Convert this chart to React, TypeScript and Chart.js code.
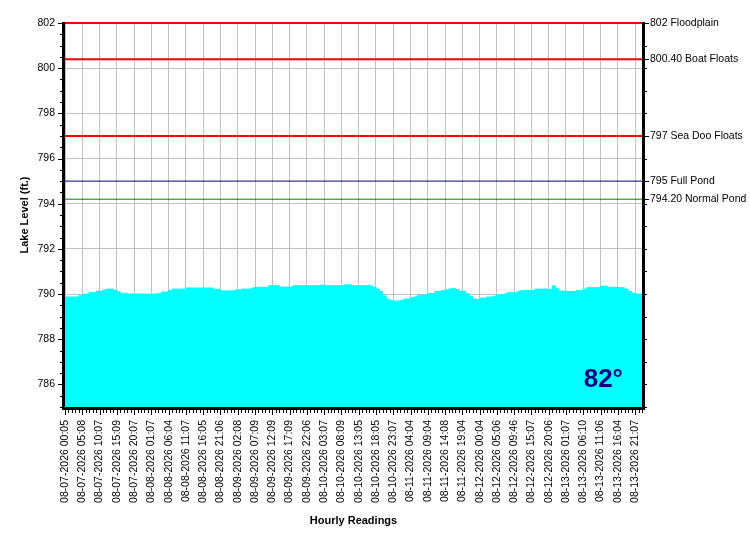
import { useEffect, useRef } from "react";
import { Chart, registerables } from "chart.js";

Chart.register(...registerables);

// tick labels, one every 5 hourly readings
const timeLabels = [
  "08-07-2026 00:05", "08-07-2026 05:08", "08-07-2026 10:07", "08-07-2026 15:09",
  "08-07-2026 20:07", "08-08-2026 01:07", "08-08-2026 06:04", "08-08-2026 11:07",
  "08-08-2026 16:05", "08-08-2026 21:06", "08-09-2026 02:08", "08-09-2026 07:09",
  "08-09-2026 12:09", "08-09-2026 17:09", "08-09-2026 22:06", "08-10-2026 03:07",
  "08-10-2026 08:09", "08-10-2026 13:05", "08-10-2026 18:05", "08-10-2026 23:07",
  "08-11-2026 04:04", "08-11-2026 09:04", "08-11-2026 14:08", "08-11-2026 19:04",
  "08-12-2026 00:04", "08-12-2026 05:06", "08-12-2026 09:46", "08-12-2026 15:07",
  "08-12-2026 20:06", "08-13-2026 01:07", "08-13-2026 06:10", "08-13-2026 11:06",
  "08-13-2026 16:04", "08-13-2026 21:07",
];

// hourly lake level readings (ft.)
const lakeLevels = [
  789.87, 789.87, 789.87, 789.87, 789.93, 789.99, 790.0, 790.06, 790.06, 790.12,
  790.12, 790.18, 790.22, 790.22, 790.17, 790.1, 790.04, 790.03, 790.0, 790.0,
  790.0, 790.0, 790.0, 790.0, 790.0, 790.0, 790.0, 790.03, 790.09, 790.09,
  790.16, 790.22, 790.22, 790.22, 790.22, 790.27, 790.27, 790.27, 790.27, 790.27,
  790.27, 790.27, 790.27, 790.21, 790.21, 790.14, 790.14, 790.14, 790.14, 790.18,
  790.18, 790.22, 790.22, 790.22, 790.27, 790.3, 790.3, 790.3, 790.3, 790.37,
  790.37, 790.37, 790.31, 790.31, 790.31, 790.31, 790.37, 790.37, 790.37, 790.37,
  790.37, 790.37, 790.37, 790.37, 790.4, 790.37, 790.37, 790.37, 790.37, 790.37,
  790.37, 790.41, 790.41, 790.37, 790.37, 790.37, 790.37, 790.37, 790.37, 790.31,
  790.22, 790.12, 789.92, 789.78, 789.72, 789.69, 789.69, 789.72, 789.78, 789.78,
  789.84, 789.87, 789.93, 789.96, 789.96, 790.03, 790.03, 790.12, 790.12, 790.16,
  790.18, 790.22, 790.24, 790.2, 790.12, 790.12, 790.01, 789.9, 789.78, 789.76,
  789.82, 789.82, 789.87, 789.87, 789.91, 789.97, 789.97, 790.0, 790.06, 790.06,
  790.06, 790.12, 790.16, 790.16, 790.16, 790.16, 790.22, 790.22, 790.22, 790.22,
  790.2, 790.36, 790.24, 790.14, 790.12, 790.12, 790.12, 790.12, 790.16, 790.16,
  790.22, 790.28, 790.28, 790.28, 790.28, 790.35, 790.35, 790.3, 790.3, 790.3,
  790.28, 790.28, 790.22, 790.12, 790.04, 790.0, 790.0, 790.0,
];

// marker levels shown on the right axis
const markerValues = [802, 800.4, 797, 795, 794.2];
const markerLabels = [
  "802 Floodplain",
  "800.40 Boat Floats",
  "797 Sea Doo Floats",
  "795 Full Pond",
  "794.20 Normal Pond",
];

const waterTemp = "82°";

const FONT = "'Liberation Sans', Arial, sans-serif";

export default function App() {
  const canvasRef = useRef<HTMLCanvasElement | null>(null);
  const chartRef = useRef<Chart | null>(null);

  useEffect(() => {
    if (!canvasRef.current) return;
    const ctx = canvasRef.current.getContext("2d");
    if (!ctx) return;

    const lastIndex = lakeLevels.length - 1;
    const markerColors = ["#ff0000", "#ff0000", "#ff0000", "#000080", "#008000"];
    const markerWidths = [2, 2, 2, 1, 1];

    const isMajorY = (v: number) => Math.abs(v / 2 - Math.round(v / 2)) < 1e-6;
    const isMarker = (v: number) =>
      markerValues.some((m) => Math.abs(m - v) < 1e-6);

    // plot frame, tick marks and the temperature text
    const framePlugin = {
      id: "frame",
      beforeDatasetsDraw(chart: Chart) {
        const { ctx: c, chartArea: a } = chart;
        c.save();
        c.strokeStyle = "#000";
        c.lineWidth = 1;
        c.beginPath();
        c.moveTo(a.left - 3, a.top - 0.5);
        c.lineTo(a.right + 3, a.top - 0.5);
        c.stroke();
        c.restore();
      },
      afterDatasetsDraw(chart: Chart) {
        const { ctx: c, chartArea: a, scales } = chart;
        c.save();
        c.strokeStyle = "#000";
        c.lineWidth = 3;
        c.beginPath();
        c.moveTo(a.left - 1.5, a.top - 1);
        c.lineTo(a.left - 1.5, a.bottom + 3);
        c.moveTo(a.left - 3, a.bottom + 1.5);
        c.lineTo(a.right + 3, a.bottom + 1.5);
        c.moveTo(a.right + 1.5, a.top - 1);
        c.lineTo(a.right + 1.5, a.bottom + 3);
        c.stroke();

        c.lineWidth = 1;
        c.beginPath();
        const sx: any = scales.x;
        sx.ticks.forEach((t: any) => {
          const px = Math.round(sx.getPixelForValue(t.value)) + 0.5;
          const len = t.value % 5 === 0 ? 5 : 3;
          c.moveTo(px, a.bottom + 3);
          c.lineTo(px, a.bottom + 3 + len);
        });
        const sy: any = scales.y;
        sy.ticks.forEach((t: any) => {
          const py = Math.round(sy.getPixelForValue(t.value)) + 0.5;
          const len = isMajorY(t.value) ? 4 : 2;
          c.moveTo(a.left - 3, py);
          c.lineTo(a.left - 3 - len, py);
        });
        const sy2: any = scales.y2;
        sy2.ticks.forEach((t: any) => {
          const py = Math.round(sy2.getPixelForValue(t.value)) + 0.5;
          const len = isMarker(t.value) ? 4 : 2;
          c.moveTo(a.right + 3, py);
          c.lineTo(a.right + 3 + len, py);
        });
        c.stroke();

        c.fillStyle = "#000080";
        c.font = `bold 26px ${FONT}`;
        c.textAlign = "right";
        c.textBaseline = "alphabetic";
        c.fillText(waterTemp, a.right - 19, a.bottom - 20);
        c.restore();
      },
    };

    chartRef.current = new Chart(ctx, {
      type: "line",
      data: {
        datasets: [
          {
            label: "Lake Level",
            data: lakeLevels.map((v, i) => ({ x: i, y: v })),
            borderColor: "#00ffff",
            backgroundColor: "#00ffff",
            borderWidth: 1,
            pointRadius: 0,
            stepped: true,
            fill: "start",
            yAxisID: "y",
            order: 2,
          },
          ...markerValues.map((v, k) => ({
            label: markerLabels[k],
            data: [
              { x: 0, y: v },
              { x: lastIndex, y: v },
            ],
            borderColor: markerColors[k],
            borderWidth: markerWidths[k],
            pointRadius: 0,
            fill: false,
            clip: 4,
            yAxisID: "y",
            order: 1,
          })),
        ],
      },
      options: {
        responsive: true,
        maintainAspectRatio: false,
        animation: false,
        layout: { padding: { top: 23, left: 0, right: 0, bottom: 0 } },
        plugins: {
          legend: { display: false },
          tooltip: { enabled: false },
        },
        scales: {
          x: {
            type: "linear",
            min: 0,
            max: lastIndex,
            border: { display: false },
            grid: {
              color: (c: any) =>
                c.tick && c.tick.value % 5 === 0 ? "#c0c0c0" : "rgba(0,0,0,0)",
              drawTicks: false,
              lineWidth: 1,
            },
            ticks: {
              stepSize: 1,
              autoSkip: false,
              maxRotation: 90,
              minRotation: 90,
              padding: 13,
              color: "#000",
              font: { family: FONT, size: 10.5 },
              callback: (value: any) =>
                Number(value) % 5 === 0 ? timeLabels[Number(value) / 5] ?? "" : "",
            },
            title: {
              display: true,
              text: "Hourly Readings",
              color: "#000",
              font: { family: FONT, size: 11, weight: "bold" },
              padding: { top: 0, bottom: 22 },
            },
            afterFit: (scale: any) => {
              scale.height = 143;
            },
          },
          y: {
            type: "linear",
            position: "left",
            min: 785,
            max: 802,
            border: { display: false },
            grid: {
              color: (c: any) =>
                c.tick && isMajorY(c.tick.value) ? "#c0c0c0" : "rgba(0,0,0,0)",
              drawTicks: false,
            },
            ticks: {
              stepSize: 0.5,
              autoSkip: false,
              padding: 10,
              color: "#000",
              font: { family: FONT, size: 10.5 },
              callback: (value: any) => (isMajorY(Number(value)) ? String(value) : ""),
            },
            title: {
              display: true,
              text: "Lake Level (ft.)",
              color: "#000",
              font: { family: FONT, size: 11, weight: "bold" },
              padding: { top: 18, bottom: 0 },
            },
            afterFit: (scale: any) => {
              scale.width = 65;
            },
          },
          y2: {
            type: "linear",
            position: "right",
            min: 785,
            max: 802,
            border: { display: false },
            grid: {
              drawOnChartArea: false,
              drawTicks: false,
            },
            ticks: {
              stepSize: 1,
              autoSkip: false,
              padding: 8,
              color: "#000",
              font: { family: FONT, size: 10.5 },
              callback: (value: any) => {
                const k = markerValues.findIndex(
                  (m) => Math.abs(m - Number(value)) < 1e-6,
                );
                return k >= 0 ? markerLabels[k] : "";
              },
            },
            afterBuildTicks: (scale: any) => {
              const extra = markerValues
                .filter(
                  (m) => !scale.ticks.some((t: any) => Math.abs(t.value - m) < 1e-6),
                )
                .map((m) => ({ value: m }));
              scale.ticks = [...scale.ticks, ...extra].sort(
                (a: any, b: any) => a.value - b.value,
              );
            },
            afterFit: (scale: any) => {
              scale.width = 108;
            },
          },
        },
      },
      plugins: [framePlugin],
    } as any);

    return () => {
      if (chartRef.current) {
        chartRef.current.destroy();
        chartRef.current = null;
      }
    };
  }, []);

  return (
    <div
      style={{
        position: "absolute",
        left: 0,
        top: 0,
        width: "750px",
        height: "550px",
        background: "#fff",
      }}
    >
      <canvas ref={canvasRef} />
    </div>
  );
}
